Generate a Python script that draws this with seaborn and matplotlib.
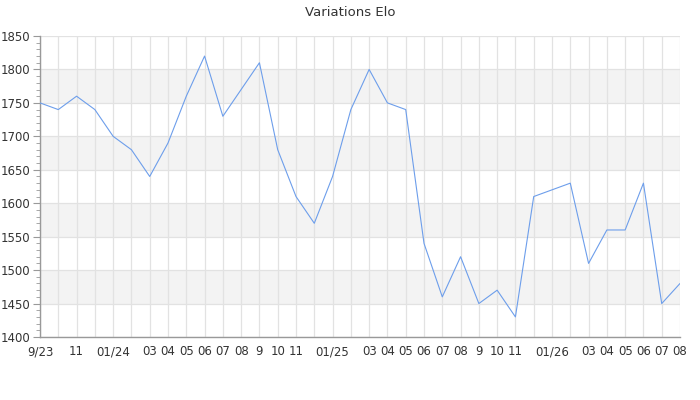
import matplotlib
matplotlib.use("Agg")
import matplotlib.pyplot as plt
from matplotlib.ticker import MultipleLocator
import pandas as pd
import seaborn as sns

# Monthly Elo, Sep 2023 -> Aug 2026
month_labels = ["9/23", "", "11", "", "01/24", "", "03", "04", "05", "06", "07", "08",
                "9", "10", "11", "", "01/25", "", "03", "04", "05", "06", "07", "08",
                "9", "10", "11", "", "01/26", "", "03", "04", "05", "06", "07", "08"]
elo = [1750, 1740, 1760, 1740, 1700, 1680, 1640, 1690, 1760, 1820, 1730, 1770,
       1810, 1680, 1610, 1570, 1640, 1740, 1800, 1750, 1740, 1540, 1460, 1520,
       1450, 1470, 1430, 1610, 1620, 1630, 1510, 1560, 1560, 1630, 1450, 1480]

df = pd.DataFrame({"month": range(len(elo)), "elo": elo})

sns.set_style("white")
plt.rcParams["font.family"] = ["DejaVu Sans"]

fig = plt.figure(figsize=(7, 4), dpi=100)
ax = fig.add_axes([40 / 700, 1 - 337 / 400, 640 / 700, 301 / 400])

y_min, y_max = 1400, 1850

# alternating grey bands
for lo in range(y_min + 50, y_max, 100):
    ax.axhspan(lo, lo + 50, color="#f3f3f3", zorder=0, lw=0)

sns.lineplot(data=df, x="month", y="elo", ax=ax, color="#6d9eeb", linewidth=0.8, zorder=3)

ax.set_xlim(0, len(elo) - 1)
ax.set_ylim(y_min, y_max)
ax.set_xticks(df["month"])
ax.set_xticklabels(month_labels)
ax.yaxis.set_major_locator(MultipleLocator(50))
ax.yaxis.set_minor_locator(MultipleLocator(10))

ax.grid(True, which="major", color="#e2e2e2", linewidth=0.9, zorder=1)
ax.set_axisbelow(True)

for side in ["top", "right"]:
    ax.spines[side].set_visible(False)
for side in ["left", "bottom"]:
    ax.spines[side].set_color("#999999")
    ax.spines[side].set_linewidth(1)

ax.tick_params(axis="y", which="major", length=5, color="#999999", labelsize=8.5,
               labelcolor="#333333", pad=2, left=True)
ax.tick_params(axis="y", which="minor", length=3, color="#999999", left=True)
ax.tick_params(axis="x", length=0, labelsize=8.5, labelcolor="#333333", pad=6)

ax.set_xlabel("")
ax.set_ylabel("")
fig.suptitle("Variations Elo", y=0.985, fontsize=9.5, color="#333333")

fig.savefig("out.png", dpi=100)
